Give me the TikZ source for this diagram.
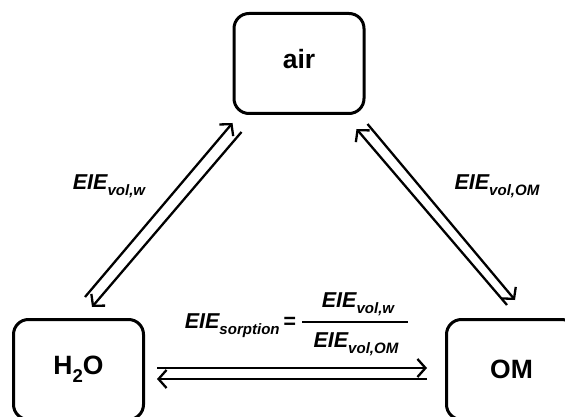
\documentclass[tikz,border=0pt]{standalone}
\usepackage{fontspec}
\setmainfont{Liberation Sans}
\usetikzlibrary{arrows.meta,calc}
\newcommand\lowsub[1]{\raisebox{-0.3em}{\fontsize{0.7em}{1em}\selectfont #1}}
\begin{document}
\begin{tikzpicture}[x=1pt,y=-1pt,
  phase/.style={draw,line width=3pt,rounded corners=15pt,minimum width=130pt,
    minimum height=100pt,inner sep=0pt,font=\fontsize{26.5}{30}\selectfont\bfseries},
  flux/.style={line width=2.3pt,-{Straight Barb[length=8pt,width=18pt]}},
  lbl/.style={inner sep=0pt,font=\fontsize{21.5}{26}\selectfont\bfseries\itshape}]
\useasboundingbox (0,0) rectangle (565,417);

% the three compartments
\node[phase,text depth=10pt] (air) at (299,63.5) {air};
\node[phase] (h2o) at (78.5,369.5) {H\lowsub{2}O};
\node[phase] (om) at (511.5,369.5) {OM};

% water <-> air
\draw[flux] ($(h2o.north)+(6.5,-21)$) -- ($(air.south west)+(0,8)$);
\draw[flux] ($(air.south west)+(9,17)$) -- ($(h2o.north)+(13.5,-11)$);

% organic matter <-> air
\draw[flux] ($(om.north)+(-4.5,-13)$) -- ($(air.south east)+(-9,14)$);
\draw[flux] ($(air.south east)+(2,9)$) -- ($(om.north)+(3.5,-18)$);

% water <-> organic matter
\draw[flux] ($(h2o.east)+(12,-1.5)$) -- ($(om.west)+(-18,-1.5)$);
\draw[flux] ($(om.west)+(-18,9.5)$) -- ($(h2o.east)+(12,9.5)$);

% isotope effect labels
\node[lbl] (kw) at (109,186) {EIE\lowsub{vol,w}};
\node[lbl] (kom) at (497,186) {EIE\lowsub{vol,OM}};

% sorption isotope effect as a ratio
\node[lbl,anchor=base east] (sorp) at (296,328) {EIE\lowsub{sorption}\,=};
\node[lbl,anchor=base] (num) at (358,307) {EIE\lowsub{vol,w}};
\node[lbl,anchor=base] (den) at (356,347) {EIE\lowsub{vol,OM}};
\coordinate (barl) at (302,322);
\coordinate (barr) at (408,322);
\draw[line width=2.2pt] (barl) -- (barr);
\end{tikzpicture}
\end{document}
